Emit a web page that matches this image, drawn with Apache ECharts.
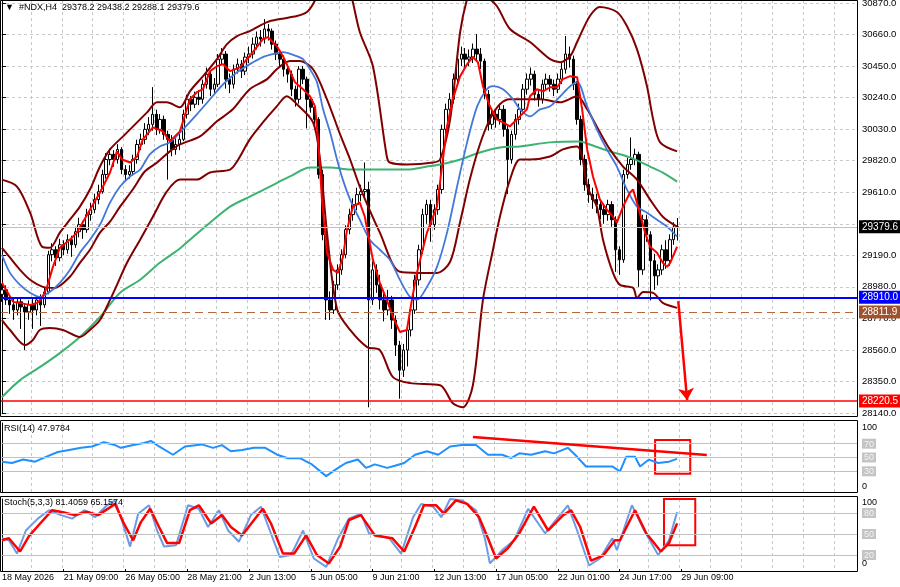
<!DOCTYPE html>
<html>
<head>
<meta charset="utf-8">
<title>#NDX,H4</title>
<script src="https://cdn.jsdelivr.net/npm/echarts@6/dist/echarts.min.js"></script>
<style>
  html, body { margin: 0; padding: 0; background: #ffffff; }
  #chart { width: 900px; height: 587px; }
</style>
</head>
<body>
<div id="chart"></div>
<script>
// bar slots on the time axis (176 bars drawn + empty shift area on the right)
const slotCount = 222
const tickEvery = 16
const gridEvery = 8
const tickLabels = ['18 May 2026', '21 May 09:00', '26 May 05:00', '28 May 21:00', '2 Jun 13:00', '5 Jun 05:00',
  '9 Jun 21:00', '12 Jun 13:00', '17 Jun 05:00', '22 Jun 01:00', '24 Jun 17:00', '29 Jun 09:00']

// H4 candles: [open, close, low, high]
const candles = [
  [28930, 28960, 28880, 29000], [28960, 28893, 28860, 28990], [28893, 28860, 28800, 28920], [28860, 28826, 28760, 28900],
  [28826, 28880, 28790, 28910], [28880, 28846, 28700, 28900], [28846, 28813, 28560, 28870], [28813, 28860, 28760, 28890],
  [28860, 28826, 28700, 28900], [28826, 28893, 28790, 28920], [28893, 28860, 28720, 28930], [28860, 28946, 28840, 28980],
  [28946, 29194, 28930, 29220], [29194, 29227, 29150, 29270], [29227, 29174, 29120, 29250], [29174, 29260, 29150, 29300],
  [29260, 29227, 29190, 29290], [29227, 29294, 29200, 29330], [29294, 29260, 29180, 29320], [29260, 29347, 29240, 29380],
  [29347, 29394, 29310, 29440], [29394, 29361, 29300, 29420], [29361, 29461, 29340, 29500], [29461, 29494, 29420, 29540],
  [29494, 29561, 29470, 29600], [29561, 29614, 29530, 29660], [29614, 29728, 29600, 29760], [29728, 29828, 29700, 29870],
  [29828, 29862, 29790, 29900], [29862, 29828, 29780, 29890], [29828, 29895, 29800, 29930], [29895, 29761, 29730, 29910],
  [29761, 29728, 29690, 29790], [29728, 29748, 29700, 29790], [29748, 29828, 29720, 29860], [29828, 29928, 29800, 29960],
  [29928, 29962, 29890, 30000], [29962, 30029, 29930, 30070], [30029, 30062, 29990, 30110], [30062, 30129, 30020, 30310],
  [30129, 30029, 29990, 30160], [30029, 30095, 30000, 30130], [30095, 29995, 29960, 30120], [29995, 29962, 29694, 30020],
  [29962, 29895, 29850, 29990], [29895, 29928, 29860, 29970], [29928, 29962, 29890, 30010], [29962, 30129, 29950, 30160],
  [30129, 30229, 30100, 30260], [30229, 30196, 30150, 30250], [30196, 30242, 30170, 30280], [30242, 30229, 30190, 30290],
  [30229, 30329, 30200, 30360], [30329, 30396, 30300, 30440], [30396, 30296, 30250, 30420], [30296, 30329, 30260, 30370],
  [30329, 30496, 30310, 30530], [30496, 30530, 30460, 30570], [30530, 30363, 30300, 30550], [30363, 30329, 30270, 30400],
  [30329, 30429, 30300, 30460], [30429, 30463, 30400, 30500], [30463, 30416, 30370, 30490], [30416, 30510, 30390, 30540],
  [30510, 30530, 30470, 30580], [30530, 30596, 30500, 30640], [30596, 30643, 30560, 30680], [30643, 30630, 30580, 30690],
  [30630, 30697, 30600, 30763], [30697, 30683, 30620, 30730], [30683, 30596, 30560, 30700], [30596, 30530, 30490, 30620],
  [30530, 30496, 30450, 30560], [30496, 30429, 30380, 30520], [30429, 30396, 30340, 30460], [30396, 30296, 30250, 30420],
  [30296, 30229, 30180, 30320], [30229, 30429, 30200, 30450], [30429, 30363, 30330, 30450], [30363, 30229, 30035, 30380],
  [30229, 30176, 30140, 30250], [30176, 30095, 30060, 30200], [30095, 29728, 29700, 30110], [29728, 29327, 29290, 29760],
  [29327, 28893, 28760, 29350], [28893, 28826, 28759, 28950], [28826, 28993, 28800, 29020], [28993, 29093, 28960, 29130],
  [29093, 29194, 29060, 29230], [29194, 29361, 29170, 29390], [29361, 29461, 29330, 29500], [29461, 29528, 29420, 29570],
  [29528, 29594, 29490, 29640], [29594, 29614, 29550, 29660], [29614, 29628, 29580, 29808], [29628, 28893, 28178, 29680],
  [28893, 29093, 28860, 29150], [29093, 28993, 28940, 29130], [28993, 28893, 28830, 29060], [28893, 28826, 28750, 28950],
  [28826, 28893, 28790, 28960], [28893, 28759, 28700, 28920], [28759, 28592, 28520, 28790], [28592, 28425, 28235, 28620],
  [28425, 28559, 28380, 28600], [28559, 28693, 28450, 28720], [28693, 28826, 28650, 28860], [28826, 29026, 28800, 29060],
  [29026, 29227, 28990, 29260], [29227, 29461, 29200, 29500], [29461, 29528, 29400, 29560], [29528, 29394, 29280, 29560],
  [29394, 29494, 29360, 29530], [29494, 29628, 29460, 29660], [29628, 30029, 29600, 30060], [30029, 30162, 29990, 30200],
  [30162, 30229, 30120, 30270], [30229, 30363, 30200, 30400], [30363, 30496, 30330, 30540], [30496, 30530, 30450, 30580],
  [30530, 30496, 30440, 30570], [30496, 30510, 30450, 30560], [30510, 30563, 30470, 30600], [30563, 30530, 30480, 30664],
  [30530, 30483, 30430, 30570], [30483, 30262, 30230, 30500], [30262, 30062, 30020, 30290], [30062, 30129, 30030, 30170],
  [30129, 30095, 30040, 30160], [30095, 30162, 30060, 30200], [30162, 30029, 29980, 30190], [30029, 29828, 29598, 30060],
  [29828, 29995, 29800, 30020], [29995, 30095, 29960, 30130], [30095, 30162, 30060, 30200], [30162, 30296, 30140, 30330],
  [30296, 30363, 30260, 30400], [30363, 30396, 30320, 30440], [30396, 30262, 30220, 30420], [30262, 30229, 30180, 30290],
  [30229, 30329, 30200, 30360], [30329, 30363, 30290, 30400], [30363, 30329, 30280, 30390], [30329, 30296, 30250, 30360],
  [30296, 30363, 30270, 30400], [30363, 30429, 30330, 30470], [30429, 30530, 30400, 30650], [30530, 30496, 30440, 30580],
  [30496, 30329, 30290, 30520], [30329, 30095, 30060, 30350], [30095, 29828, 29790, 30120], [29828, 29661, 29620, 29860],
  [29661, 29594, 29540, 29700], [29594, 29561, 29500, 29640], [29561, 29528, 29470, 29600], [29528, 29494, 29430, 29560],
  [29494, 29461, 29400, 29530], [29461, 29528, 29420, 29560], [29528, 29427, 29380, 29550], [29427, 29227, 29080, 29450],
  [29227, 29160, 29060, 29250], [29160, 29728, 29140, 29760], [29728, 29795, 29700, 29840], [29795, 29828, 29760, 29975],
  [29828, 29862, 29790, 29900], [29862, 29093, 28980, 29880], [29093, 29427, 29060, 29460], [29427, 29327, 29280, 29460],
  [29327, 29154, 28890, 29350], [29154, 29053, 28960, 29200], [29053, 29093, 28990, 29130], [29093, 29227, 29060, 29260],
  [29227, 29154, 29100, 29290], [29154, 29294, 29120, 29330], [29294, 29378.2, 29260, 29410], [29378.2, 29379.6, 29288.1, 29438.2]
]

// overlay indicators: [bar index, price]
const fastMa = [[0, 29007], [2.9, 28880], [7.3, 28860], [9.1, 28873], [10.4, 28906], [11.7, 28980], [13.2, 29113], [15, 29240],
  [17.6, 29294], [19.4, 29341], [22.8, 29494], [25.4, 29608], [28, 29741], [29.8, 29882], [31.1, 29828], [33.2, 29808],
  [35, 29848], [36.5, 29962], [39.1, 30042], [41.7, 30015], [43.5, 29948], [46.1, 30015], [48.7, 30229], [50.5, 30276],
  [52.1, 30296], [53.9, 30416], [55.7, 30449], [57.3, 30463], [59.1, 30416], [61.7, 30443], [65, 30543], [67.6, 30630],
  [68.9, 30643], [71.2, 30583], [72.8, 30516], [74.6, 30416], [75.9, 30343], [78, 30296], [79.8, 30249], [81.1, 30182],
  [81.9, 29962], [82.9, 29561], [84.2, 29207], [85.8, 29093], [87, 29073], [88.3, 29174], [89.4, 29361], [90.9, 29514],
  [92.7, 29541], [94, 29447], [96.1, 29160], [97.9, 29007], [99.7, 28893], [101.3, 28779], [103.1, 28679], [104.9, 28693],
  [106.2, 28893], [107.5, 29073], [110.1, 29341], [112.7, 29514], [114, 29781], [115.3, 30049], [116.8, 30229], [118.7, 30383],
  [120.5, 30463], [122, 30510], [123.3, 30476], [124.6, 30316], [126.4, 30182], [128.2, 30095], [129.8, 30075], [131.6, 30049],
  [133.4, 30095], [136, 30162], [136.8, 30249], [138.6, 30296], [140.2, 30282], [142, 30309], [143.8, 30309], [145.3, 30363],
  [147.2, 30383], [149, 30376], [150.3, 30162], [151.6, 29895], [153.1, 29715], [154.9, 29561], [156.7, 29494], [158.3, 29447],
  [159.3, 29407], [160.9, 29514], [162.7, 29608], [163.5, 29628], [164.8, 29514], [166.6, 29341], [167.9, 29247], [169.7, 29207],
  [171.2, 29140], [172.3, 29113], [173.1, 29140], [174.9, 29247]]

const trendMa = [[0, 29194], [2.1, 29073], [4.7, 28993], [7.3, 28940], [9.8, 28913], [12.4, 28946], [15, 29007], [17.6, 29093],
  [20.2, 29207], [22.8, 29294], [25.4, 29394], [28, 29541], [30.6, 29648], [33.2, 29715], [35.8, 29761], [38.3, 29862],
  [40.9, 29915], [43.5, 29942], [46.9, 30029], [50.5, 30129], [53.9, 30229], [57.3, 30329], [60.9, 30409], [64.2, 30463],
  [67.6, 30510], [70.2, 30530], [72.8, 30543], [76.4, 30516], [78, 30496], [79.8, 30429], [81.6, 30343], [83.2, 30162],
  [85, 30009], [86.8, 29828], [88.3, 29694], [90.2, 29561], [92.7, 29427], [95.3, 29294], [97.9, 29227], [100.5, 29160],
  [103.1, 29026], [105.7, 28913], [107.5, 28893], [110.1, 28980], [112.7, 29113], [115.3, 29341], [117.9, 29648], [120.5, 29942],
  [123.1, 30182], [125.6, 30296], [127.2, 30316], [129.8, 30296], [132.4, 30229], [134.2, 30162], [136.8, 30115], [139.4, 30162],
  [142, 30182], [144.6, 30249], [147.2, 30316], [149, 30343], [151.6, 30182], [154.1, 30029], [156.7, 29895], [159.3, 29781],
  [161.9, 29628], [164.5, 29514], [167.1, 29474], [169.7, 29427], [172.3, 29381], [174.9, 29314]]

const slowMa = [[0, 28245], [4.7, 28359], [9.8, 28445], [15, 28539], [20.2, 28646], [25.4, 28779], [30.6, 28940], [35.8, 29027],
  [40.9, 29140], [46.1, 29235], [48.7, 29294], [53.9, 29407], [59.1, 29514], [64.2, 29581], [69.4, 29648], [74.6, 29715],
  [79.8, 29775], [85, 29775], [90.2, 29761], [96.1, 29761], [104.9, 29761], [110.1, 29781], [113.5, 29795], [118.7, 29828],
  [123.8, 29875], [129, 29908], [134.2, 29915], [142, 29942], [149.7, 29948], [152.3, 29928], [157.5, 29882], [162.7, 29842],
  [167.9, 29781], [171.2, 29741], [174.9, 29681]]

const bandUpper = [[0, 29694], [3.9, 29648], [7.3, 29474], [10.4, 29247], [12.4, 29240], [15, 29341], [17.6, 29427], [20.2, 29514],
  [22.8, 29628], [25.4, 29781], [28, 29895], [31.9, 29995], [37.6, 30142], [40.2, 30209], [42.7, 30209], [46.1, 30176],
  [48.7, 30282], [52.1, 30383], [55.7, 30496], [58.3, 30596], [60.9, 30650], [64.2, 30683], [68.7, 30743], [72, 30763],
  [76.4, 30783], [79, 30810], [80.6, 30864], [82.4, 30964], [85, 31131], [87.6, 31164], [89.4, 30997], [90.7, 30897],
  [92.7, 30677], [96.1, 30449], [99.7, 29848], [100.5, 29808], [104.9, 29795], [111.7, 29808], [113.5, 29828], [116.1, 30095],
  [118.7, 30677], [120.5, 30897], [122.5, 31031], [125.1, 30930], [128.2, 30850], [131.6, 30697], [136.8, 30610], [142, 30496],
  [144.6, 30476], [147.2, 30516], [149, 30610], [152.3, 30783], [154.9, 30844], [159.3, 30810], [161.9, 30717], [164.5, 30563],
  [167.1, 30316], [168.7, 30095], [170.5, 29942], [174.9, 29882]]

const bandMiddle = [[0, 29240], [2.1, 29174], [4.7, 29093], [7.3, 29027], [10.6, 28980], [13.7, 28973], [17.6, 29047], [20.2, 29140],
  [22.8, 29227], [25.4, 29341], [28, 29414], [30.6, 29514], [33.9, 29628], [37, 29748], [40.2, 29808], [43.5, 29882],
  [46.1, 29928], [51.3, 29982], [55.7, 30082], [59.8, 30162], [64.2, 30296], [68.7, 30363], [71.2, 30429], [74.6, 30483],
  [77.2, 30483], [80.6, 30429], [84.2, 30229], [87.6, 29995], [90.2, 29828], [92.7, 29648], [97.9, 29341], [103.1, 29080],
  [108.3, 29073], [112.7, 29073], [116.1, 29147], [118.7, 29414], [121.2, 29694], [123.8, 29928], [126.4, 30095], [129, 30196],
  [131.6, 30229], [139.4, 30229], [144.6, 30209], [149, 30249], [151.6, 30162], [154.9, 30009], [157.5, 29895], [160.9, 29781],
  [164.5, 29694], [167.9, 29561], [171.2, 29447], [174.9, 29381]]

const bandLower = [[0, 28759], [2.1, 28693], [6, 28592], [8, 28626], [9.8, 28693], [12.4, 28706], [15.8, 28693], [20.2, 28646],
  [22.8, 28693], [25.4, 28759], [28, 28893], [29.8, 28993], [32.4, 29140], [35.8, 29294], [39.1, 29447], [42.7, 29614],
  [46.1, 29694], [50.5, 29694], [53.9, 29741], [59.1, 29761], [60.9, 29815], [64.2, 29962], [67.6, 30075], [71.2, 30182],
  [73.8, 30249], [76.4, 30196], [80.6, 30075], [82.4, 29828], [84.2, 29341], [86.8, 28833], [90.2, 28693], [94.6, 28579],
  [97.9, 28559], [101.3, 28379], [105.7, 28339], [113.5, 28325], [116.8, 28205], [119.4, 28178], [122, 28325], [124.6, 28893],
  [127.2, 29227], [129, 29447], [131.6, 29694], [134.2, 29828], [136.8, 29828], [142, 29848], [145.3, 29895], [149, 29915],
  [150.3, 29848], [151.6, 29648], [154.1, 29514], [155.7, 29294], [158.3, 29073], [160.1, 28993], [163.5, 28973], [164.5, 28906],
  [166.1, 28946], [168.7, 28940], [171.2, 28873], [174.9, 28840]]

// horizontal levels
const lastPrice = 29379.6
const supportLevel = 28910.0
const pivotLevel = 28811.9
const targetLevel = 28220.5
const arrowFrom = [175.2, 28885]
const arrowTo = [177.5, 28225]

// RSI(14): [bar index, value]
const rsiPoints = [[0, 44], [2.6, 42], [5.5, 47], [8.6, 44], [11.4, 51], [14.5, 58], [17.4, 61], [20.5, 64], [23.3, 66],
  [26.4, 72], [29.3, 68], [30.8, 64], [34, 68], [36.8, 71], [38.6, 74], [40.7, 66], [44.3, 54], [47.4, 66], [51.8, 69],
  [54.7, 64], [57, 68], [59.3, 59], [62.2, 61], [65.3, 64], [68.2, 64], [71.3, 54], [74.1, 49], [77.2, 49], [80.3, 40],
  [84, 23], [86.3, 32], [89.1, 42], [92.2, 47], [94.3, 35], [96.6, 40], [99.8, 35], [101.8, 38], [104.2, 42], [107, 54],
  [110.1, 59], [113, 54], [116.1, 66], [119.2, 68], [122.8, 68], [125.9, 54], [129.6, 54], [131.9, 49], [134, 56], [137.1, 54],
  [140.7, 59], [143, 56], [146.6, 64], [149, 51], [151.3, 37], [154.9, 37], [158.1, 37], [160.1, 30], [161.7, 51], [164, 51],
  [165.3, 37], [167.6, 47], [170, 42], [172.8, 44], [174.9, 47.98]]
const rsiLevels = [70, 50, 30]
const rsiTrend = [[122, 79.7], [182.6, 53.6]]
const rsiBox = [[169.2, 75.4], [178.3, 26.6]]

// Stochastic(5,3,3)
const stochMain = [[0, 44], [1.8, 41], [3.9, 22], [6.2, 55], [9.3, 72], [12.2, 84], [15.3, 77], [18.2, 72], [21.3, 84],
  [24.1, 74], [27.2, 91], [29.3, 98], [30.8, 74], [33.2, 32], [35.3, 79], [38.1, 91], [40.2, 55], [42, 32], [45.1, 34],
  [48.2, 91], [51, 86], [53.4, 60], [56.2, 84], [58.6, 55], [61.4, 39], [64.5, 77], [67.1, 89], [69.4, 55], [72, 17],
  [74.9, 20], [78, 55], [80.8, 15], [84, 3], [87.1, 44], [89.9, 72], [93, 79], [95.1, 51], [100.3, 44], [103.4, 22],
  [106.5, 74], [108.6, 93], [111.7, 89], [113.8, 74], [116.1, 100], [119.2, 98], [122.8, 84], [125.1, 44], [126.4, 8],
  [129.6, 27], [132.7, 41], [136.3, 86], [140.7, 51], [143.8, 72], [146.6, 91], [149, 55], [152.1, 5], [154.9, 15],
  [158.1, 44], [159.3, 27], [163.2, 91], [166.1, 58], [170, 20], [172.8, 41], [174.9, 81.41]]
const stochSignal = [[0, 41], [1.8, 44], [4.7, 25], [7, 47], [9.9, 65], [13, 84], [15.8, 81], [18.9, 77], [22, 82],
  [24.9, 77], [28, 88], [29.3, 93], [31.6, 65], [34, 41], [36, 67], [38.4, 86], [40.7, 60], [42.8, 37], [45.9, 37],
  [48.7, 84], [51, 91], [54.2, 65], [57, 77], [59.3, 60], [62.2, 48], [65.3, 70], [67.6, 86], [69.7, 65], [72.8, 22],
  [75.7, 22], [78.8, 48], [81.6, 20], [84.7, 8], [87.6, 32], [89.9, 70], [93, 77], [96.6, 48], [101.1, 44], [104.2, 25],
  [107, 60], [109.3, 91], [112.5, 91], [114.5, 79], [117.6, 98], [120.5, 93], [123.6, 74], [125.9, 44], [128, 15],
  [131.1, 30], [134, 51], [137.8, 89], [141.5, 55], [145.4, 77], [147.4, 84], [149.8, 60], [152.6, 12], [155.7, 19],
  [158.8, 41], [160.1, 41], [164, 84], [166.9, 51], [170.7, 25], [172.8, 37], [174.9, 65.16]]
const stochLevels = [80, 50, 20]
const stochBox = [[171.5, 100], [179.6, 34]]

const slots = Array.from({ length: slotCount }, (_, i) => String(i))
const font = 'Liberation Sans, Arial, sans-serif'
const gridLine = { color: '#c8c8c8', type: [3, 3], width: 1 }
const smallText = { fontSize: 9, fontWeight: 'normal', color: '#000', fontFamily: font }

function catAxis(gridIndex, withLabels) {
  return {
    type: 'category',
    gridIndex,
    data: slots,
    boundaryGap: true,
    axisLine: { show: false },
    axisTick: {
      show: withLabels,
      alignWithLabel: true,
      length: 3,
      interval: (i) => i % tickEvery === 0 && i / tickEvery < tickLabels.length,
      lineStyle: { color: '#000' }
    },
    axisLabel: {
      show: withLabels,
      interval: (i) => i % tickEvery === 0 && i / tickEvery < tickLabels.length,
      formatter: (v, i) => tickLabels[i / tickEvery] || '',
      align: 'left',
      margin: 4,
      color: '#000',
      fontSize: 9,
      fontFamily: font
    },
    splitLine: { show: true, interval: (i) => i > 0 && i % gridEvery === 0, lineStyle: gridLine }
  }
}
function valAxis(gridIndex) {
  return { type: 'value', gridIndex, min: -0.5, max: slotCount - 0.5, show: false }
}
function oscAxis(gridIndex, levels, topPad, botPad) {
  return {
    type: 'value',
    gridIndex,
    position: 'right',
    min: 0,
    max: 100,
    interval: 10,
    axisLine: { show: true, lineStyle: { color: '#000' } },
    axisTick: { show: false },
    splitLine: { show: false },
    axisLabel: {
      margin: 5,
      fontSize: 9,
      fontFamily: font,
      color: '#000',
      formatter: (v) => {
        if (v === 100) return '{top|100}'
        if (v === 0) return '{bot|0}'
        if (levels.indexOf(v) >= 0) return '{lv|' + v + '}'
        return ''
      },
      rich: {
        top: { padding: [topPad, 0, 0, 0], fontSize: 9, color: '#000' },
        bot: { padding: [0, 0, botPad, 0], fontSize: 9, color: '#000' },
        lv: { backgroundColor: '#c4c4c4', color: '#f4f4f4', padding: [1, 2, 0, 2], fontSize: 9 }
      }
    }
  }
}
function levelLines(levels) {
  return levels.map((v) => ({ yAxis: v }))
}
function priceTag(value, bg, lineStyle) {
  return {
    yAxis: value,
    lineStyle,
    label: {
      show: true,
      position: 'end',
      distance: 2,
      formatter: value.toFixed(1),
      color: '#fff',
      backgroundColor: bg,
      padding: [2, 3, 1, 3],
      fontSize: 10,
      fontFamily: font
    }
  }
}
function overlay(name, data, color, width, smooth) {
  return {
    name,
    type: 'line',
    xAxisIndex: 1,
    yAxisIndex: 0,
    data,
    showSymbol: false,
    smooth,
    lineStyle: { color, width },
    silent: true
  }
}

const chart = echarts.init(document.getElementById('chart'))

const redMa = overlay('fast', fastMa, '#ff0000', 2, false)
redMa.markLine = {
  silent: true,
  symbol: 'none',
  animation: false,
  data: [
    priceTag(lastPrice, '#000000', { color: '#c0c0c0', width: 1, type: 'solid' }),
    priceTag(supportLevel, '#0000ff', { color: '#0000ff', width: 2, type: 'solid' }),
    priceTag(pivotLevel, '#a0522d', { color: '#b5683f', width: 1, type: [8, 5] }),
    priceTag(targetLevel, '#ff0000', { color: '#ff0000', width: 1.5, type: 'solid' }),
    [
      { coord: arrowFrom, symbol: 'none', lineStyle: { color: '#ff0000', width: 2.5, type: 'solid' }, label: { show: false } },
      { coord: arrowTo, symbol: 'arrow', symbolSize: 12 }
    ]
  ]
}

const option = {
  animation: false,
  backgroundColor: '#ffffff',
  title: [
    { text: '▼  #NDX,H4  29378.2 29438.2 29288.1 29379.6', left: 5, top: 3, padding: 0, textStyle: smallText },
    { text: 'RSI(14) 47.9784', left: 4, top: 424, padding: 0, textStyle: smallText },
    { text: 'Stoch(5,3,3) 81.4059 65.1574', left: 4, top: 498, padding: 0, textStyle: smallText }
  ],
  grid: [
    { left: 0, right: 43, top: 0, height: 413, containLabel: false, outerBoundsMode: 'none' },
    { left: 0, right: 43, top: 423, height: 69, containLabel: false, outerBoundsMode: 'none' },
    { left: 0, right: 43, top: 499, height: 70, containLabel: false, outerBoundsMode: 'none' }
  ],
  xAxis: [catAxis(0, false), valAxis(0), catAxis(1, false), valAxis(1), catAxis(2, true), valAxis(2)],
  yAxis: [
    {
      type: 'value',
      gridIndex: 0,
      position: 'right',
      min: 28140,
      max: 30890,
      interval: 210,
      axisLine: { show: true, lineStyle: { color: '#000' } },
      axisTick: { show: true, length: 4, lineStyle: { color: '#000' } },
      axisLabel: {
        margin: 5,
        color: '#000',
        fontSize: 9.5,
        fontFamily: font,
        formatter: (v) => (Math.round(v) % 210 === 0 ? v.toFixed(1) : '')
      },
      splitLine: { show: true, lineStyle: gridLine }
    },
    oscAxis(1, rsiLevels, 10, 10),
    oscAxis(2, stochLevels, 8, 10)
  ],
  graphic: [
    { type: 'rect', silent: true, z: 100, shape: { x: 0.5, y: 0.5, width: 857, height: 416 }, style: { fill: 'none', stroke: '#000', lineWidth: 1 } },
    { type: 'rect', silent: true, z: 100, shape: { x: 0.5, y: 420.5, width: 857, height: 72 }, style: { fill: 'none', stroke: '#000', lineWidth: 1 } },
    { type: 'rect', silent: true, z: 100, shape: { x: 0.5, y: 496.5, width: 857, height: 75 }, style: { fill: 'none', stroke: '#000', lineWidth: 1 } }
  ],
  series: [
    {
      name: '#NDX,H4',
      type: 'candlestick',
      xAxisIndex: 0,
      yAxisIndex: 0,
      data: candles,
      barWidth: 3,
      silent: true,
      itemStyle: {
        color: '#ffffff',
        color0: '#000000',
        borderColor: '#000000',
        borderColor0: '#000000',
        borderColorDoji: '#000000',
        borderWidth: 1
      }
    },
    overlay('slow', slowMa, '#3cb371', 2, 0.3),
    overlay('bandUpper', bandUpper, '#800000', 2, 0.3),
    overlay('bandMiddle', bandMiddle, '#800000', 2, 0.3),
    overlay('bandLower', bandLower, '#800000', 2, 0.3),
    overlay('trend', trendMa, '#4278da', 1.8, 0.3),
    redMa,
    {
      name: 'RSI',
      type: 'line',
      xAxisIndex: 3,
      yAxisIndex: 1,
      data: rsiPoints,
      showSymbol: false,
      silent: true,
      lineStyle: { color: '#1e90ff', width: 2 },
      markLine: {
        silent: true,
        symbol: 'none',
        animation: false,
        label: { show: false },
        lineStyle: { color: '#c0c0c0', width: 1, type: 'solid' },
        data: levelLines(rsiLevels).concat([[
          { coord: rsiTrend[0], lineStyle: { color: '#ff0000', width: 2.5, type: 'solid' } },
          { coord: rsiTrend[1] }
        ]])
      },
      markArea: {
        silent: true,
        itemStyle: { color: 'rgba(0,0,0,0)', borderColor: '#ff0000', borderWidth: 2 },
        data: [[{ coord: rsiBox[0] }, { coord: rsiBox[1] }]]
      }
    },
    {
      name: 'Stoch main',
      type: 'line',
      xAxisIndex: 5,
      yAxisIndex: 2,
      data: stochMain,
      showSymbol: false,
      silent: true,
      lineStyle: { color: '#6c9be6', width: 2 },
      markLine: {
        silent: true,
        symbol: 'none',
        animation: false,
        label: { show: false },
        lineStyle: { color: '#c0c0c0', width: 1, type: 'solid' },
        data: levelLines(stochLevels)
      }
    },
    {
      name: 'Stoch signal',
      type: 'line',
      xAxisIndex: 5,
      yAxisIndex: 2,
      data: stochSignal,
      showSymbol: false,
      silent: true,
      lineStyle: { color: '#ff0000', width: 2.5 },
      markArea: {
        silent: true,
        itemStyle: { color: 'rgba(0,0,0,0)', borderColor: '#ff0000', borderWidth: 2 },
        data: [[{ coord: stochBox[0] }, { coord: stochBox[1] }]]
      }
    }
  ]
}

chart.setOption(option)
</script>
</body>
</html>
